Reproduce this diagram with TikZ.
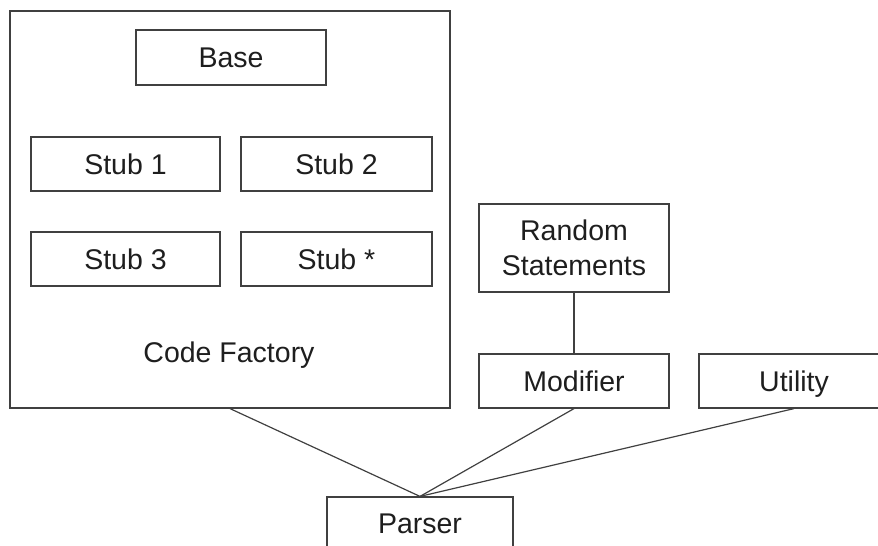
\documentclass[tikz,border=0pt]{standalone}
\usepackage{fontspec}
\setmainfont{Liberation Sans}
\usetikzlibrary{positioning}
\definecolor{boxline}{RGB}{64,64,64}
\definecolor{boxtext}{RGB}{30,30,30}
\tikzset{
  block/.style={draw=boxline, line width=1.2pt, rectangle, fill=white,
    text=boxtext, inner sep=0pt, align=center,
    font=\fontsize{28.5}{35}\selectfont},
  oneline/.style={text height=20.4pt, text depth=0pt},
  link/.style={draw=boxline, line width=1.2pt}
}

\begin{document}
\begin{tikzpicture}[x=1pt,y=-1pt]

  \clip (0,0) rectangle (878,546);

  %% code factory
  \node[block, minimum width=440pt, minimum height=397pt] (factory) at (230,209.5) {};
  \node[oneline, text=boxtext, inner sep=0pt, font=\fontsize{28.5}{35}\selectfont]
    (factorylabel) at (229,352) {Code Factory};

  \node[block, oneline, minimum width=190pt, minimum height=55pt] (base) at (231,57.5) {Base};
  \node[block, oneline, minimum width=189pt, minimum height=54pt] (stub1) at (125.5,164) {Stub 1};
  \node[block, oneline, minimum width=191pt, minimum height=54pt] (stub2) at (336.5,164) {Stub 2};
  \node[block, oneline, minimum width=189pt, minimum height=54pt] (stub3) at (125.5,259) {Stub 3};
  \node[block, oneline, minimum width=191pt, minimum height=54pt] (stubn) at (336.5,259) {Stub *};

  %% modifier side
  \node[block, minimum width=190pt, minimum height=88pt] (random) at (574,248) {Random\\Statements};
  \node[block, oneline, minimum width=190pt, minimum height=54pt] (modifier) at (574,381) {Modifier};
  \node[block, oneline, minimum width=190pt, minimum height=54pt] (utility) at (794,381) {Utility};

  %% parser
  \node[block, oneline, minimum width=186pt, minimum height=52pt] (parser) at (420,523) {Parser};

  %% links
  \draw[link] (random) -- (modifier);
  \draw[link] (factory.south) -- (parser.north);
  \draw[link] (modifier.south) -- (parser.north);
  \draw[link] (utility.south) -- (parser.north);

\end{tikzpicture}
\end{document}
